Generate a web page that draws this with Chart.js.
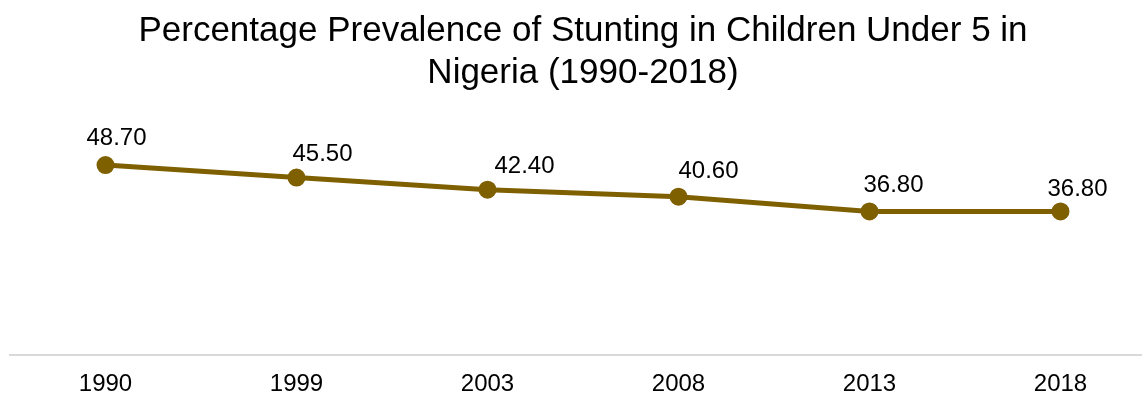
<!DOCTYPE html>
<html>
<head>
<meta charset="utf-8">
<script src="https://cdn.jsdelivr.net/npm/chart.js@4/dist/chart.umd.min.js"></script>
<style>
  html, body { margin: 0; padding: 0; background: #fff; overflow: hidden; }
  #wrap { width: 1160px; height: 413px; }
</style>
</head>
<body>
<div id="wrap"><canvas id="stuntingChart"></canvas></div>
<script>
const years = ["1990", "1999", "2003", "2008", "2013", "2018"];
const stunting = [48.7, 45.5, 42.4, 40.6, 36.8, 36.8];
const titleLines = ["Percentage Prevalence of Stunting in Children Under 5 in", "Nigeria (1990-2018)"];

// value labels sit above each marker; nudges are [dx, dy] from the point
const labelNudge = [[11, -20], [26, -17], [37, -17], [30, -19], [24, -19], [17, -15]];

const valueLabels = {
  id: "valueLabels",
  afterDatasetsDraw(chart) {
    const ctx = chart.ctx;
    const meta = chart.getDatasetMeta(0);
    ctx.save();
    ctx.font = "24px 'Liberation Sans', Arial, sans-serif";
    ctx.fillStyle = "#000";
    ctx.textAlign = "center";
    ctx.textBaseline = "alphabetic";
    meta.data.forEach((pt, i) => {
      const [dx, dy] = labelNudge[i];
      ctx.fillText(stunting[i].toFixed(2), pt.x + dx, pt.y + dy);
    });
    ctx.restore();
  },
};

new Chart(document.getElementById("stuntingChart"), {
  type: "line",
  data: {
    labels: years,
    datasets: [
      {
        data: stunting,
        borderColor: "#7F6000",
        backgroundColor: "#7F6000",
        borderWidth: 5,
        pointRadius: 6.5,
        pointHoverRadius: 6.5,
        tension: 0,
      },
    ],
  },
  options: {
    responsive: true,
    maintainAspectRatio: false,
    animation: false,
    layout: { autoPadding: false, padding: { left: 10, right: 4, top: 10, bottom: 0 } },
    plugins: {
      legend: { display: false },
      tooltip: { enabled: false },
      title: {
        display: true,
        text: titleLines,
        color: "#000",
        font: { family: "'Liberation Sans', Arial, sans-serif", size: 35, weight: "normal" },
        lineHeight: 1.2,
        padding: { top: 0, bottom: 27 },
      },
    },
    scales: {
      x: {
        offset: true,
        grid: { display: false, drawTicks: false },
        border: { display: true, color: "#d9d9d9", width: 2 },
        ticks: {
          color: "#000",
          padding: 17,
          font: { family: "'Liberation Sans', Arial, sans-serif", size: 24, lineHeight: 1 },
        },
      },
      y: {
        display: false,
        min: 0,
        max: 60,
      },
    },
  },
  plugins: [valueLabels],
});
</script>
</body>
</html>
